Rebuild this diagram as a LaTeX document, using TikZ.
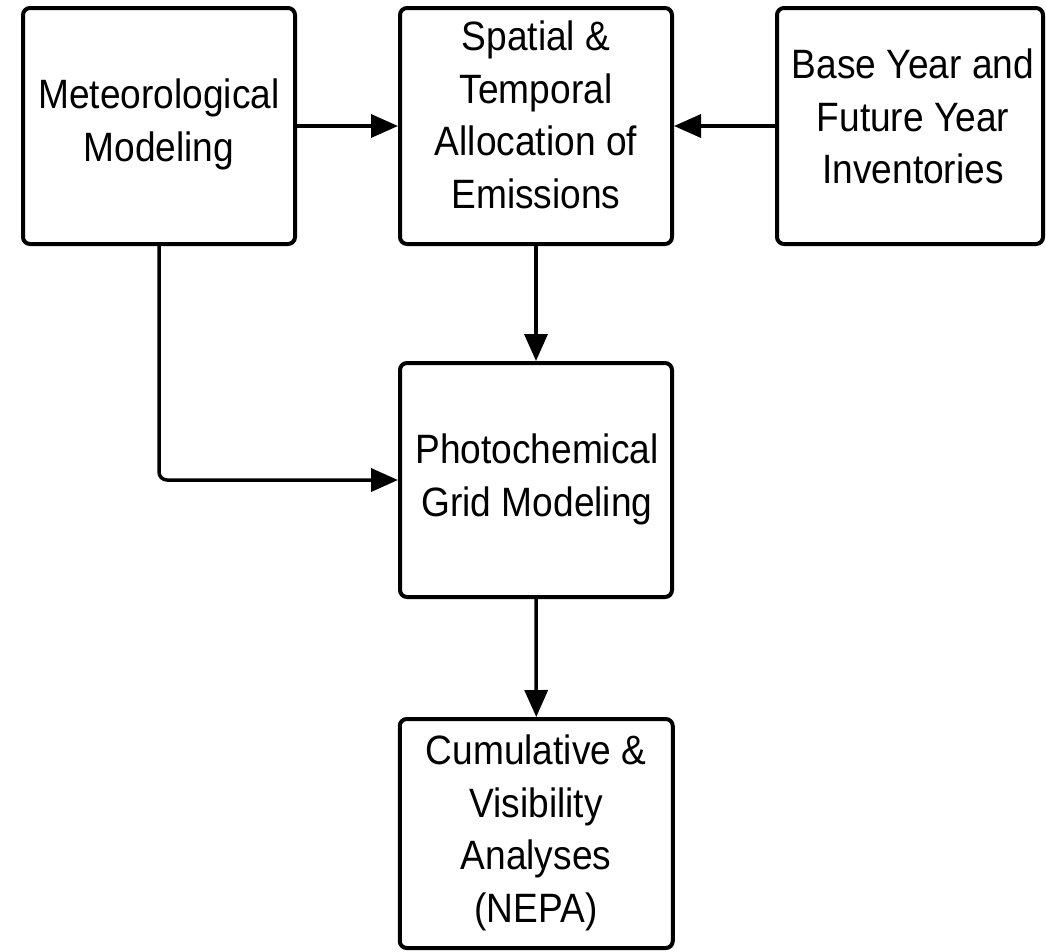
\documentclass[tikz,border=0pt]{standalone}
\usepackage{fontspec}
\setmainfont{Liberation Sans}[FakeStretch=0.905]
\usetikzlibrary{arrows.meta}
\tikzset{
  box/.style={draw=black, line width=4pt, rounded corners=7pt, inner sep=0pt, fill=white},
  txt/.style={align=center, inner sep=0pt, anchor=north, font=\fontsize{41}{52.5}\selectfont},
  arr/.style={draw=black, line width=3.5pt, -{Triangle[length=27pt,width=23pt]}},
}
\begin{document}
\begin{tikzpicture}[x=1pt,y=-1pt]
\useasboundingbox (0,0) rectangle (1046,951);
\fill[white] (0,0) rectangle (1046,951);
% boxes
\node[box, minimum width=272pt, minimum height=236pt] (met) at (159,126) {};
\node[box, minimum width=272pt, minimum height=236pt] (alloc) at (536,126) {};
\node[box, minimum width=266pt, minimum height=236pt] (inv) at (910,126) {};
\node[box, minimum width=272pt, minimum height=234pt] (photo) at (536,480) {};
\node[box, minimum width=273pt, minimum height=229pt] (cum) at (536.25,833.5) {};
% texts
\node[txt] (metT) at (159,79) {Meteorological\\Modeling};
\node[txt] (allocT) at (536,21) {Spatial \&\\Temporal\\Allocation of\\Emissions};
\node[txt] (invT) at (913,49) {Base Year and\\Future Year\\Inventories};
\node[txt] (photoT) at (537,434) {Photochemical\\Grid Modeling};
\node[txt] (cumT) at (536,735) {Cumulative \&\\Visibility\\Analyses\\(NEPA)};
% connectors
\draw[arr] (met.east) -- (alloc.west);
\draw[arr] (inv.west) -- (alloc.east);
\draw[arr] (alloc.south) -- (photo.north);
\draw[arr] (photo.south) -- (cum.north);
\draw[arr, rounded corners=8pt] (met.south) |- (photo.west);
\end{tikzpicture}
\end{document}
